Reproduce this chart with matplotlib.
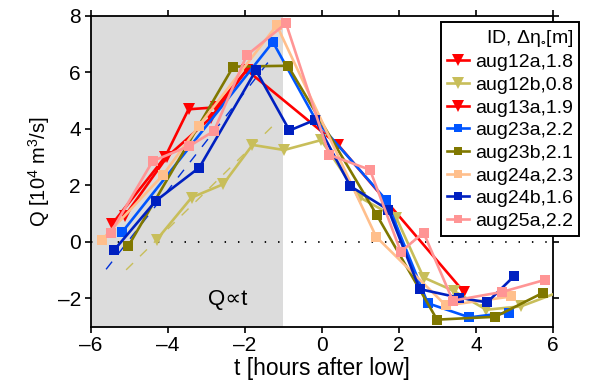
import matplotlib
matplotlib.use("Agg")
import matplotlib.pyplot as plt

plt.rcParams['font.family'] = ['Liberation Sans', 'DejaVu Sans']
plt.rcParams['mathtext.fontset'] = 'custom'
plt.rcParams['mathtext.rm'] = 'Liberation Sans'
plt.rcParams['mathtext.it'] = 'Liberation Sans'

# ---- data ----
labels = ["aug12a,1.8", "aug12b,0.8", "aug13a,1.9", "aug23a,2.2",
          "aug23b,2.1", "aug24a,2.3", "aug24b,1.6", "aug25a,2.2"]
colors = ["#FF0000", "#C8BE5A", "#FF0000", "#0055FF",
          "#807800", "#FFBF8C", "#0020C0", "#FF9595"]
markers = ["v", "v", "v", "s", "s", "s", "s", "s"]

aug12a_t = [-5.45, -4.07, -3.46, -2.75, -1.95, 0.43, 3.70]
aug12a_q = [0.62, 3.00, 4.69, 4.76, 6.08, 3.42, -1.79]

aug12b_t = [-4.29, -3.38, -2.56, -1.80, -0.98, -0.02, 0.99, 1.93, 2.64, 3.42, 4.27, 5.17, 6.30]
aug12b_q = [0.07, 1.57, 2.04, 3.43, 3.25, 3.60, 1.57, 0.86, -1.26, -1.73, -2.40, -2.28, -1.70]

aug13a_t = [-5.11, -4.01, -2.88, -1.95]
aug13a_q = [0.92, 3.02, 4.39, 6.08]

aug23a_t = [-5.18, -1.27, -0.15, 1.67, 2.75, 3.83, 4.85]
aug23a_q = [0.35, 7.07, 4.30, 1.48, -2.17, -2.67, -2.50]

aug23b_t = [-5.02, -2.30, -0.88, 1.43, 2.99, 4.50, 5.74]
aug23b_q = [-0.14, 6.20, 6.23, 0.94, -2.75, -2.65, -1.80]

aug24a_t = [-5.71, -4.12, -3.20, -1.17, 1.41, 3.22, 4.92]
aug24a_q = [0.07, 2.37, 4.09, 7.66, 0.18, -2.25, -1.93]

aug24b_t = [-5.39, -4.31, -3.18, -1.71, -0.84, -0.17, 0.74, 1.73, 2.54, 3.55, 4.29, 5.00]
aug24b_q = [-0.29, 1.45, 2.63, 6.07, 3.94, 4.32, 1.97, 1.13, -1.67, -1.97, -2.14, -1.20]

aug25a_t = [-5.48, -4.39, -3.44, -2.80, -1.95, -0.93, 0.19, 1.25, 2.05, 2.64, 3.40, 4.68, 5.80]
aug25a_q = [0.33, 2.86, 3.39, 3.92, 6.60, 7.73, 3.08, 2.55, -0.35, 0.33, -2.08, -1.77, -1.34]

series_t = [aug12a_t, aug12b_t, aug13a_t, aug23a_t, aug23b_t, aug24a_t, aug24b_t, aug25a_t]
series_q = [aug12a_q, aug12b_q, aug13a_q, aug23a_q, aug23b_q, aug24a_q, aug24b_q, aug25a_q]

# linear (Q ~ t) fit segments, endpoints
fit_colors = ["#C8BE5A", "#0030D8"]
fit_t = [[-5.08, -1.26], [-5.60, -1.27]]
fit_q = [[-0.99, 4.12], [-0.97, 6.57]]

xticks = [-6, -4, -2, 0, 2, 4, 6]
yticks = [-2, 0, 2, 4, 6, 8]
shade_span = [-6, -1]

# ---- figure ----
fig = plt.figure(figsize=(5.95, 3.90), dpi=100)
ax = fig.add_axes([0.1524, 0.1623, 0.9294 - 0.1524, 0.9597 - 0.1623])

ax.axvspan(shade_span[0], shade_span[1], color="#DCDCDC", lw=0, zorder=0)
ax.axhline(0, color="black", lw=1.3, ls=(0, (0.8, 6.6)), zorder=1)

for ft, fq, fc in zip(fit_t, fit_q, fit_colors):
    ax.plot(ft, fq, color=fc, lw=1.0, ls=(0, (7, 7)), zorder=2)

for t, q, c, m, lab in zip(series_t, series_q, colors, markers, labels):
    ms = 8.5 if m == "v" else 6.5
    ax.plot(t, q, color=c, marker=m, ms=ms, lw=1.9, label=lab, zorder=3,
            markeredgewidth=0)

ax.text(-2.45, -2.05, "Q\u221dt", fontsize=16, ha="center", va="center",
        family=['Liberation Sans', 'DejaVu Sans'])

ax.set_xlim(-6, 6)
ax.set_ylim(-3, 8)
ax.set_xticks(xticks)
ax.set_yticks(yticks)
ax.set_xticklabels(["\u2013" + str(-v) if v < 0 else str(v) for v in xticks])
ax.set_yticklabels(["\u2013" + str(-v) if v < 0 else str(v) for v in yticks])
ax.tick_params(direction="out", length=4, width=1.2, labelsize=15,
               top=True, right=True, pad=3)
for s in ax.spines.values():
    s.set_linewidth(1.3)

ax.set_xlabel("t [hours after low]", fontsize=16.5, labelpad=1)
ax.set_ylabel("Q [10$^4$ m$^3$/s]", fontsize=14.5, labelpad=4)

leg = ax.legend(loc="upper right", bbox_to_anchor=(579.3 / 595, 1 - 21.7 / 390),
                bbox_transform=fig.transFigure, borderaxespad=0,
                title="ID, \u0394\u03b7$_{\u2218}$[m]", title_fontsize=14,
                fontsize=14, frameon=True, fancybox=False, framealpha=1,
                edgecolor="black", handlelength=1.1, handletextpad=0.35,
                labelspacing=0.26, borderpad=0.3, alignment="right",
                markerscale=0.95)
leg.get_frame().set_linewidth(1.4)
leg.set_zorder(10)

fig.savefig("out.png", dpi=100)
